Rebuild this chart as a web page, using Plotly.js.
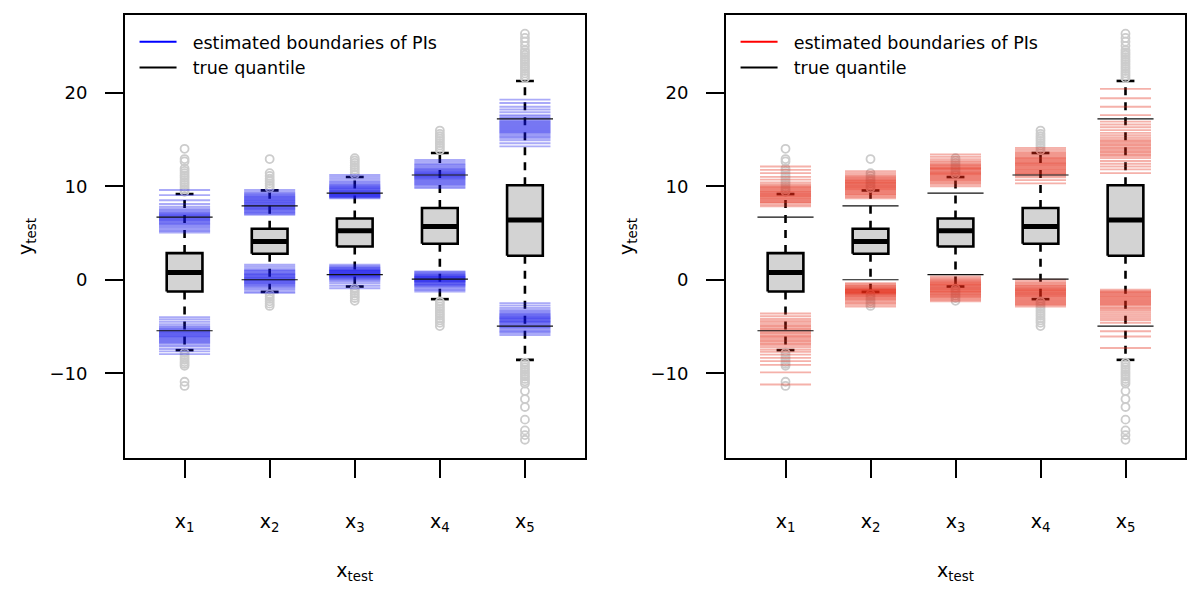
<!DOCTYPE html>
<html>
<head>
<meta charset="utf-8">
<script src="https://cdn.plot.ly/plotly-3.0.1.min.js"></script>
<style>html,body{margin:0;padding:0;background:#fff;}#chart{width:1200px;height:602px;}</style>
</head>
<body>
<div id="chart"></div>
<script>
// ---------- data ----------
const categories = ['x<sub>1</sub>', 'x<sub>2</sub>', 'x<sub>3</sub>', 'x<sub>4</sub>', 'x<sub>5</sub>'];
const xPositions = [1, 2, 3, 4, 5];

// box plot statistics of y_test
const boxQ1 = [-1.25, 2.78, 3.56, 3.85, 2.57];
const boxMedian = [0.78, 4.1, 5.25, 5.7, 6.4];
const boxQ3 = [2.85, 5.45, 6.55, 7.67, 10.1];
const whiskerLow = [-7.52, -1.3, -0.72, -2.07, -8.56];
const whiskerHigh = [9.16, 9.55, 10.98, 13.55, 21.25];

// outliers
const outliersX1 = [9.4, 9.65, 9.9, 10.15, 10.4, 10.65, 10.9, 11.15, 11.4, 11.65, 11.9, 12.65, 12.9, 14.0,
  -7.8, -8.05, -8.3, -8.55, -8.8, -9.0, -9.2, -10.9, -11.35];
const outliersX2 = [9.8, 10.05, 10.3, 10.55, 10.8, 11.1, 11.4, 12.9,
  -1.55, -1.8, -2.05, -2.3, -2.55, -2.8];
const outliersX3 = [11.25, 11.5, 11.75, 12.0, 12.25, 12.5, 12.75, 13.0,
  -0.95, -1.2, -1.45, -1.7, -1.95, -2.25];
const outliersX4 = [13.85, 14.1, 14.35, 14.6, 14.85, 15.1, 15.35, 15.6, 15.95,
  -2.35, -2.6, -2.85, -3.1, -3.35, -3.6, -3.85, -4.1, -4.35, -4.6, -4.95];
const outliersX5 = [21.55, 21.8, 22.05, 22.3, 22.55, 22.8, 23.05, 23.3, 23.55, 23.8, 24.05, 24.3, 24.55, 25.0, 25.45, 25.85, 26.3,
  -8.85, -9.1, -9.35, -9.6, -9.85, -10.1, -10.35, -10.6, -10.85, -11.1, -11.9, -12.75, -13.6, -14.95, -16.1, -16.6, -17.1];

// true quantiles
const trueUpper = [6.7, 7.9, 9.27, 11.2, 17.2];
const trueLower = [-5.45, 0.0, 0.55, 0.07, -4.95];

// estimated PI boundaries, left panel (blue), one value per run
const blueUp1 = [9.6, 9.05, 8.5, 8.1, 7.8, 7.6, 7.45, 7.3, 7.2, 7.1, 7.0, 6.95, 6.85, 6.8, 6.7, 6.6, 6.55, 6.45, 6.4, 6.3, 6.2, 6.1, 6.0, 5.9, 5.8, 5.65, 5.5, 5.35, 5.2, 5.06];
const blueLo1 = [-4.0, -4.25, -4.5, -4.75, -4.95, -5.1, -5.2, -5.3, -5.4, -5.5, -5.55, -5.65, -5.7, -5.8, -5.9, -5.95, -6.05, -6.1, -6.2, -6.3, -6.4, -6.5, -6.6, -6.7, -6.8, -7.0, -7.15, -7.4, -7.65, -7.95];
const blueUp2 = [9.6, 9.4, 9.25, 9.15, 9.05, 8.95, 8.85, 8.8, 8.7, 8.6, 8.55, 8.45, 8.4, 8.3, 8.2, 8.15, 8.05, 8.0, 7.9, 7.85, 7.75, 7.7, 7.6, 7.55, 7.45, 7.35, 7.25, 7.15, 7.05, 6.95];
const blueLo2 = [1.6, 1.4, 1.2, 1.05, 0.95, 0.85, 0.75, 0.65, 0.6, 0.5, 0.45, 0.35, 0.3, 0.2, 0.15, 0.05, 0.0, -0.05, -0.15, -0.2, -0.3, -0.35, -0.45, -0.55, -0.65, -0.75, -0.9, -1.05, -1.25, -1.4];
const blueUp3 = [11.2, 11.0, 10.8, 10.6, 10.45, 10.3, 10.2, 10.1, 10.0, 9.95, 9.85, 9.8, 9.7, 9.65, 9.55, 9.5, 9.45, 9.4, 9.3, 9.25, 9.2, 9.15, 9.1, 9.05, 9.0, 8.95, 8.9, 8.85, 8.8, 8.7];
const blueLo3 = [1.6, 1.45, 1.35, 1.25, 1.2, 1.1, 1.05, 1.0, 0.95, 0.9, 0.85, 0.8, 0.75, 0.7, 0.65, 0.6, 0.55, 0.5, 0.45, 0.4, 0.35, 0.3, 0.2, 0.15, 0.05, -0.05, -0.2, -0.4, -0.65, -0.9];
const blueUp4 = [12.8, 12.6, 12.4, 12.3, 12.15, 12.0, 11.9, 11.8, 11.7, 11.6, 11.55, 11.45, 11.4, 11.3, 11.25, 11.15, 11.1, 11.0, 10.95, 10.85, 10.8, 10.7, 10.6, 10.5, 10.4, 10.3, 10.2, 10.1, 9.95, 9.8];
const blueLo4 = [0.9, 0.8, 0.7, 0.6, 0.55, 0.45, 0.4, 0.35, 0.3, 0.25, 0.2, 0.15, 0.1, 0.05, 0.0, -0.05, -0.1, -0.15, -0.2, -0.25, -0.3, -0.4, -0.45, -0.55, -0.6, -0.7, -0.8, -0.95, -1.1, -1.25];
const blueUp5 = [19.25, 18.9, 18.5, 18.2, 17.9, 17.6, 17.45, 17.3, 17.15, 17.0, 16.9, 16.8, 16.7, 16.6, 16.5, 16.4, 16.3, 16.2, 16.1, 16.0, 15.9, 15.8, 15.7, 15.55, 15.4, 15.25, 15.1, 14.9, 14.6, 14.26];
const blueLo5 = [-2.5, -2.75, -3.0, -3.2, -3.35, -3.5, -3.6, -3.7, -3.8, -3.9, -3.95, -4.05, -4.1, -4.2, -4.25, -4.35, -4.4, -4.5, -4.55, -4.65, -4.75, -4.85, -4.95, -5.05, -5.15, -5.3, -5.45, -5.55, -5.7, -5.9];

// estimated PI boundaries, right panel (red)
const redUp1 = [12.1, 11.75, 11.4, 11.0, 10.7, 10.4, 10.2, 10.05, 9.95, 9.85, 9.75, 9.65, 9.55, 9.45, 9.4, 9.3, 9.2, 9.15, 9.05, 8.95, 8.9, 8.8, 8.7, 8.6, 8.5, 8.4, 8.3, 8.2, 8.0, 7.84];
const redLo1 = [-3.6, -3.9, -4.2, -4.4, -4.6, -4.8, -4.95, -5.1, -5.25, -5.4, -5.55, -5.7, -5.85, -6.0, -6.1, -6.25, -6.4, -6.55, -6.7, -6.85, -7.0, -7.2, -7.45, -7.7, -8.0, -8.35, -8.7, -9.1, -9.9, -11.2];
const redUp2 = [11.6, 11.4, 11.2, 11.05, 10.95, 10.85, 10.75, 10.65, 10.6, 10.5, 10.45, 10.35, 10.3, 10.2, 10.15, 10.05, 10.0, 9.9, 9.85, 9.75, 9.7, 9.6, 9.5, 9.4, 9.3, 9.2, 9.1, 9.0, 8.85, 8.7];
const redLo2 = [-0.36, -0.5, -0.6, -0.7, -0.8, -0.85, -0.95, -1.0, -1.05, -1.1, -1.15, -1.2, -1.25, -1.3, -1.35, -1.4, -1.45, -1.5, -1.55, -1.65, -1.7, -1.8, -1.9, -2.0, -2.1, -2.2, -2.35, -2.5, -2.65, -2.85];
const redUp3 = [13.4, 13.15, 12.9, 12.7, 12.55, 12.4, 12.3, 12.2, 12.1, 12.0, 11.95, 11.85, 11.8, 11.7, 11.6, 11.5, 11.45, 11.35, 11.3, 11.2, 11.1, 11.0, 10.9, 10.8, 10.7, 10.6, 10.5, 10.35, 10.2, 10.0];
const redLo3 = [0.36, 0.2, 0.05, -0.05, -0.15, -0.25, -0.3, -0.4, -0.45, -0.55, -0.6, -0.7, -0.75, -0.85, -0.9, -1.0, -1.05, -1.15, -1.2, -1.3, -1.35, -1.45, -1.55, -1.6, -1.7, -1.8, -1.9, -2.0, -2.15, -2.3];
const redUp4 = [14.1, 13.9, 13.7, 13.55, 13.4, 13.3, 13.15, 13.05, 12.95, 12.85, 12.75, 12.65, 12.55, 12.45, 12.4, 12.3, 12.2, 12.1, 12.0, 11.9, 11.8, 11.7, 11.6, 11.5, 11.4, 11.3, 11.15, 10.95, 10.65, 10.3];
const redLo4 = [0.0, -0.2, -0.35, -0.5, -0.6, -0.7, -0.8, -0.9, -0.95, -1.05, -1.1, -1.2, -1.25, -1.35, -1.4, -1.5, -1.55, -1.65, -1.7, -1.8, -1.9, -2.0, -2.1, -2.2, -2.3, -2.4, -2.5, -2.6, -2.7, -2.85];
const redUp5 = [20.4, 19.4, 18.5, 17.6, 16.9, 16.6, 16.3, 16.0, 15.7, 15.45, 15.2, 15.0, 14.85, 14.7, 14.55, 14.4, 14.25, 14.1, 13.95, 13.8, 13.65, 13.5, 13.35, 13.2, 13.0, 12.7, 12.4, 12.1, 11.8, 11.4];
const redLo5 = [-1.05, -1.2, -1.3, -1.4, -1.5, -1.6, -1.7, -1.8, -1.9, -2.0, -2.1, -2.2, -2.3, -2.4, -2.5, -2.6, -2.7, -2.85, -3.0, -3.15, -3.3, -3.5, -3.7, -3.9, -4.1, -4.3, -4.6, -5.5, -6.06, -7.3];

// ---------- styling ----------
const FONT = 'DejaVu Sans, Liberation Sans, Arial, sans-serif';
const BOX_HALF = 0.21, STAPLE_HALF = 0.105, PI_HALF = 0.3, TRUE_HALF = 0.33;
const GRAY_FILL = '#D3D3D3';

const outlierSets = [outliersX1, outliersX2, outliersX3, outliersX4, outliersX5];
const blueUp = [blueUp1, blueUp2, blueUp3, blueUp4, blueUp5];
const blueLo = [blueLo1, blueLo2, blueLo3, blueLo4, blueLo5];
const redUp = [redUp1, redUp2, redUp3, redUp4, redUp5];
const redLo = [redLo1, redLo2, redLo3, redLo4, redLo5];

function panelTraces(xa, ya, ups, los, legendRgb, bandRgb, bandAlpha, legendId) {
  const t = [];
  // legend entries
  t.push({x: [null], y: [null], xaxis: xa, yaxis: ya, mode: 'lines', name: '\u00a0\u00a0estimated boundaries of PIs',
    line: {color: 'rgb(' + legendRgb + ')', width: 2}, legend: legendId, hoverinfo: 'skip'});
  t.push({x: [null], y: [null], xaxis: xa, yaxis: ya, mode: 'lines', name: '\u00a0\u00a0true quantile',
    line: {color: '#000', width: 2}, legend: legendId, hoverinfo: 'skip'});

  // boxes
  const bx = [], by = [], mx = [], my = [], wx = [], wy = [], sx = [], sy = [], ox = [], oy = [];
  xPositions.forEach((p, i) => {
    bx.push(p - BOX_HALF, p + BOX_HALF, p + BOX_HALF, p - BOX_HALF, p - BOX_HALF, null);
    by.push(boxQ1[i], boxQ1[i], boxQ3[i], boxQ3[i], boxQ1[i], null);
    mx.push(p - BOX_HALF, p + BOX_HALF, null); my.push(boxMedian[i], boxMedian[i], null);
    wx.push(p, p, null, p, p, null); wy.push(boxQ3[i], whiskerHigh[i], null, boxQ1[i], whiskerLow[i], null);
    sx.push(p - STAPLE_HALF, p + STAPLE_HALF, null, p - STAPLE_HALF, p + STAPLE_HALF, null);
    sy.push(whiskerHigh[i], whiskerHigh[i], null, whiskerLow[i], whiskerLow[i], null);
    outlierSets[i].forEach(v => { ox.push(p); oy.push(v); });
  });
  t.push({x: wx, y: wy, xaxis: xa, yaxis: ya, mode: 'lines', showlegend: false, hoverinfo: 'skip',
    line: {color: '#000', width: 2.6, dash: '8px,7px'}});
  t.push({x: sx, y: sy, xaxis: xa, yaxis: ya, mode: 'lines', showlegend: false, hoverinfo: 'skip',
    line: {color: '#000', width: 2.6}});
  t.push({x: ox, y: oy, xaxis: xa, yaxis: ya, mode: 'markers', showlegend: false, hoverinfo: 'skip',
    marker: {symbol: 'circle-open', size: 8, color: '#CCCCCC', line: {width: 1.8, color: '#CCCCCC'}}});
  t.push({x: bx, y: by, xaxis: xa, yaxis: ya, mode: 'lines', fill: 'toself', fillcolor: GRAY_FILL,
    showlegend: false, hoverinfo: 'skip', line: {color: '#000', width: 2.6}});
  t.push({x: mx, y: my, xaxis: xa, yaxis: ya, mode: 'lines', showlegend: false, hoverinfo: 'skip',
    line: {color: '#000', width: 5}});

  // estimated PI boundaries, one trace per run
  const nRuns = ups[0].length;
  for (let r = 0; r < nRuns; r++) {
    const px = [], py = [];
    xPositions.forEach((p, i) => {
      px.push(p - PI_HALF, p + PI_HALF, null, p - PI_HALF, p + PI_HALF, null);
      py.push(ups[i][r], ups[i][r], null, los[i][r], los[i][r], null);
    });
    t.push({x: px, y: py, xaxis: xa, yaxis: ya, mode: 'lines', showlegend: false, hoverinfo: 'skip',
      line: {color: 'rgba(' + bandRgb + ',' + bandAlpha + ')', width: 1.9}});
  }

  // true quantiles
  const qx = [], qy = [];
  xPositions.forEach((p, i) => {
    qx.push(p - TRUE_HALF, p + TRUE_HALF, null, p - TRUE_HALF, p + TRUE_HALF, null);
    qy.push(trueUpper[i], trueUpper[i], null, trueLower[i], trueLower[i], null);
  });
  t.push({x: qx, y: qy, xaxis: xa, yaxis: ya, mode: 'lines', showlegend: false, hoverinfo: 'skip',
    line: {color: '#111', width: 1.2}});
  return t;
}

const data = [].concat(
  panelTraces('x', 'y', blueUp, blueLo, '0,0,255', '20,20,235', 0.36, 'legend'),
  panelTraces('x2', 'y2', redUp, redLo, '255,0,0', '228,40,20', 0.36, 'legend2')
);

function xAxis(domain, anchor) {
  return {domain: domain, anchor: anchor, range: [0.3, 5.7], tickmode: 'array', tickvals: xPositions, ticktext: categories,
    showline: true, mirror: true, linecolor: '#000', linewidth: 2, ticks: 'outside', ticklen: 18, tickwidth: 2, tickcolor: '#000',
    showgrid: false, zeroline: false, ticklabelstandoff: 27, tickfont: {size: 19, family: FONT, color: '#000'},
    title: {text: 'x<sub>test</sub>', font: {size: 19, family: FONT, color: '#000'}, standoff: 30}};
}
function yAxis(anchor) {
  return {domain: [0, 1], anchor: anchor, range: [-19.05, 28.3], tickmode: 'array', tickvals: [-10, 0, 10, 20],
    ticktext: ['\u221210', '0', '10', '20'],
    showline: true, mirror: true, linecolor: '#000', linewidth: 2, ticks: 'outside', ticklen: 18, tickwidth: 2, tickcolor: '#000',
    showgrid: false, zeroline: false, ticklabelstandoff: 14, tickfont: {size: 18, family: FONT, color: '#000'},
    title: {text: 'y<sub>test</sub>', font: {size: 19, family: FONT, color: '#000'}, standoff: 12}};
}

const legendCommon = {yanchor: 'top', xanchor: 'left', bgcolor: 'rgba(0,0,0,0)', borderwidth: 0,
  font: {size: 17.5, family: FONT, color: '#000'}, itemwidth: 37, tracegroupgap: 0};

const layout = {
  width: 1200, height: 602,
  margin: {l: 125, r: 15, t: 15, b: 144},
  paper_bgcolor: '#fff', plot_bgcolor: '#fff',
  font: {family: FONT, color: '#000'},
  showlegend: true,
  xaxis: xAxis([0, 0.4335], 'y'),
  yaxis: yAxis('x'),
  xaxis2: xAxis([0.567, 1], 'y2'),
  yaxis2: yAxis('x2'),
  legend: Object.assign({x: 0.009, y: 0.98}, legendCommon),
  legend2: Object.assign({x: 0.576, y: 0.98}, legendCommon)
};

Plotly.newPlot('chart', data, layout, {displayModeBar: false, staticPlot: true});
</script>
</body>
</html>
